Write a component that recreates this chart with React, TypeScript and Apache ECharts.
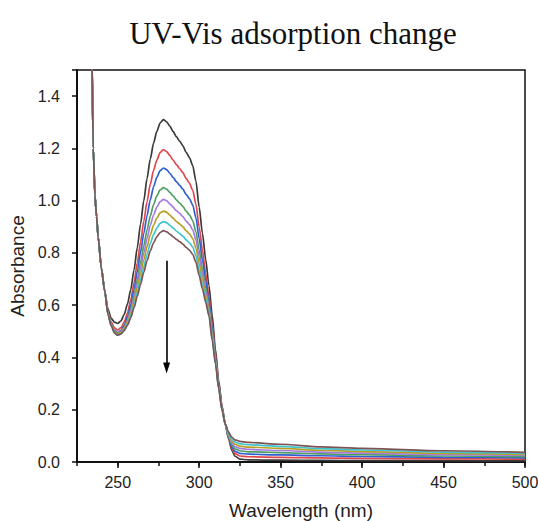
import { useEffect, useRef } from "react";
import * as echarts from "echarts";

const wavelengths = [
  230, 234, 235, 236, 237, 238, 240, 242, 244, 246, 248, 250, 252, 254, 256, 258, 260, 262, 264, 266,
  268, 270, 272, 274, 276, 278, 280, 282, 284, 286, 288, 290, 292, 294, 296, 298, 300, 302, 304, 306,
  308, 310, 312, 314, 316, 318, 320, 322, 325, 330, 350, 375, 400, 450, 500,
];

const absBlack = [
  3.0, 1.6, 1.2, 1.02, 0.94, 0.86, 0.74, 0.655, 0.585, 0.55, 0.535, 0.53,
  0.54, 0.565, 0.605, 0.66, 0.735, 0.82, 0.91, 1.0, 1.085, 1.16, 1.22, 1.265, 1.297, 1.31, 1.302, 1.285,
  1.265, 1.245, 1.228, 1.21, 1.185, 1.165, 1.135, 1.075, 0.975, 0.875, 0.775,
  0.675, 0.56, 0.43, 0.31, 0.215, 0.145,
  0.09, 0.045, 0.022, 0.011, 0.008, 0.007, 0.006, 0.005, 0.005, 0.004,
];
const absRed = [
  3.0, 1.6, 1.2, 1.02, 0.94, 0.86, 0.74, 0.655, 0.575, 0.535, 0.513, 0.505,
  0.514, 0.536, 0.571, 0.62, 0.686, 0.762, 0.841, 0.921, 0.996, 1.063, 1.116, 1.155, 1.184, 1.195, 1.188, 1.173,
  1.155, 1.138, 1.123, 1.107, 1.085, 1.067, 1.04, 0.987, 0.899, 0.81, 0.722,
  0.633, 0.53, 0.415, 0.3, 0.21, 0.145,
  0.094, 0.052, 0.032, 0.023, 0.02, 0.018, 0.016, 0.014, 0.012, 0.011,
];
const absBlue = [
  3.0, 1.6, 1.2, 1.02, 0.94, 0.86, 0.74, 0.655, 0.57, 0.528, 0.503, 0.495,
  0.503, 0.523, 0.556, 0.6, 0.661, 0.729, 0.802, 0.875, 0.943, 1.004, 1.053, 1.089, 1.115, 1.125, 1.119, 1.105,
  1.089, 1.073, 1.059, 1.044, 1.024, 1.008, 0.984, 0.935, 0.855, 0.774, 0.693,
  0.612, 0.515, 0.405, 0.295, 0.205, 0.145,
  0.097, 0.058, 0.041, 0.033, 0.03, 0.027, 0.024, 0.021, 0.018, 0.016,
];
const absGreen = [
  3.0, 1.6, 1.2, 1.02, 0.94, 0.86, 0.74, 0.655, 0.568, 0.525, 0.498, 0.49,
  0.497, 0.515, 0.544, 0.583, 0.637, 0.698, 0.763, 0.827, 0.888, 0.942, 0.985, 1.018, 1.041, 1.05, 1.044, 1.032,
  1.018, 1.003, 0.991, 0.978, 0.96, 0.946, 0.924, 0.881, 0.81, 0.738, 0.666,
  0.594, 0.5, 0.395, 0.29, 0.205, 0.145,
  0.1, 0.066, 0.05, 0.043, 0.039, 0.036, 0.031, 0.028, 0.023, 0.02,
];
const absPurple = [
  3.0, 1.6, 1.2, 1.02, 0.94, 0.86, 0.74, 0.655, 0.568, 0.525, 0.498, 0.49,
  0.497, 0.513, 0.54, 0.576, 0.625, 0.681, 0.741, 0.8, 0.856, 0.906, 0.945, 0.975, 0.996, 1.005, 1.0, 0.988,
  0.975, 0.962, 0.951, 0.939, 0.922, 0.909, 0.889, 0.85, 0.784, 0.718, 0.652,
  0.586, 0.49, 0.39, 0.285, 0.205, 0.145,
  0.104, 0.073, 0.059, 0.052, 0.048, 0.044, 0.038, 0.034, 0.028, 0.025,
];
const absOlive = [
  3.0, 1.6, 1.2, 1.02, 0.94, 0.86, 0.74, 0.655, 0.568, 0.525, 0.498, 0.49,
  0.496, 0.511, 0.535, 0.568, 0.614, 0.665, 0.719, 0.773, 0.825, 0.87, 0.906, 0.933, 0.953, 0.96, 0.956, 0.945,
  0.933, 0.921, 0.911, 0.9, 0.885, 0.873, 0.855, 0.819, 0.758, 0.698, 0.638,
  0.577, 0.48, 0.385, 0.285, 0.2, 0.145,
  0.107, 0.08, 0.068, 0.061, 0.057, 0.052, 0.045, 0.04, 0.033, 0.029,
];
const absCyan = [
  3.0, 1.6, 1.2, 1.02, 0.94, 0.86, 0.74, 0.655, 0.565, 0.522, 0.494, 0.485,
  0.491, 0.505, 0.527, 0.558, 0.599, 0.647, 0.697, 0.747, 0.795, 0.837, 0.87, 0.895, 0.913, 0.92, 0.916, 0.906,
  0.895, 0.884, 0.874, 0.864, 0.85, 0.839, 0.823, 0.789, 0.733, 0.678, 0.622,
  0.566, 0.47, 0.38, 0.28, 0.2, 0.145,
  0.11, 0.088, 0.076, 0.07, 0.066, 0.06, 0.051, 0.046, 0.038, 0.033,
];
const absBrown = [
  3.0, 1.6, 1.2, 1.02, 0.94, 0.86, 0.74, 0.655, 0.565, 0.522, 0.494, 0.485,
  0.49, 0.503, 0.523, 0.552, 0.59, 0.634, 0.68, 0.726, 0.77, 0.808, 0.839, 0.862, 0.878, 0.885, 0.881, 0.872,
  0.862, 0.852, 0.843, 0.834, 0.821, 0.811, 0.795, 0.765, 0.713, 0.662, 0.611,
  0.559, 0.465, 0.375, 0.28, 0.2, 0.145,
  0.115, 0.095, 0.085, 0.079, 0.075, 0.068, 0.058, 0.052, 0.043, 0.037,
];

const seriesNames = ["t0", "t1", "t2", "t3", "t4", "t5", "t6", "t7"];
const seriesValues = [absBlack, absRed, absBlue, absGreen, absPurple, absOlive, absCyan, absBrown];
const seriesColors = ["#3a3a3a", "#e0474c", "#2f5fd0", "#4f9e62", "#a67be0", "#b9a024", "#3ec4cf", "#7d5454"];

// arrow: from (wavelength, absorbance) to (wavelength, absorbance)
const arrowStart = [280, 0.77];
const arrowEnd = [280, 0.36];

const xTickValues = [250, 300, 350, 400, 450, 500];

export default function App() {
  const ref = useRef<HTMLDivElement>(null);
  useEffect(() => {
    const chart = echarts.init(ref.current!, null, { renderer: "svg" });
    const sans = "Liberation Sans";
    chart.setOption({
      animation: false,
      backgroundColor: "#ffffff",
      title: {
        text: "UV-Vis adsorption change",
        left: 288,
        top: 13,
        textAlign: "center",
        textStyle: { fontFamily: "Liberation Serif", fontSize: 31, fontWeight: "normal", color: "#111" },
      },
      grid: {
        left: 77,
        right: 13,
        top: 70,
        bottom: 59,
        containLabel: false,
        outerBoundsMode: "none",
        show: true,
        borderColor: "#111",
        borderWidth: 1.5,
      },
      xAxis: [
        {
          type: "value",
          min: 225,
          max: 500,
          splitNumber: 5,
          position: "bottom",
          name: "Wavelength (nm)",
          nameLocation: "middle",
          nameGap: 39,
          nameTextStyle: { fontFamily: sans, fontSize: 19, color: "#222" },
          axisLine: { show: true, onZero: false, lineStyle: { color: "#111", width: 2 } },
          axisTick: { show: true, length: 6, lineStyle: { color: "#111", width: 1.5 } },
          axisLabel: {
            fontFamily: sans,
            fontSize: 16,
            color: "#222",
            margin: 12,
            showMinLabel: false,
            formatter: (v: number) => (xTickValues.includes(v) ? String(v) : ""),
          },
          splitLine: { show: false },
        },
        {
          type: "value",
          min: 225,
          max: 500,
          interval: 25,
          position: "bottom",
          axisLine: { show: false, onZero: false },
          axisTick: { show: true, length: 4, lineStyle: { color: "#111", width: 1.5 } },
          axisLabel: { show: false },
          splitLine: { show: false },
        },
      ],
      yAxis: {
        type: "value",
        min: 0,
        max: 1.5,
        interval: 0.2,
        name: "Absorbance",
        nameLocation: "middle",
        nameGap: 50,
        nameTextStyle: { fontFamily: sans, fontSize: 19, color: "#222" },
        axisLine: { show: true, onZero: false, lineStyle: { color: "#111", width: 2 } },
        axisTick: { show: true, length: 5, lineStyle: { color: "#111", width: 1.5 } },
        axisLabel: {
          fontFamily: sans,
          fontSize: 16,
          color: "#222",
          margin: 17,
          formatter: (v: number) => (v > 1.45 ? "" : v.toFixed(1)),
        },
        splitLine: { show: false },
      },
      series: seriesValues.map((vals, si) => ({
        name: seriesNames[si],
        type: "line",
        xAxisIndex: 0,
        showSymbol: false,
        symbol: "none",
        smooth: 0.25,
        smoothMonotone: "x",
        clip: true,
        color: seriesColors[si],
        lineStyle: { width: 1.7, color: seriesColors[si] },
        data: wavelengths.map((w, i) => [w, vals[i]]),
        z: 2 + si,
        markLine:
          si === 0
            ? {
                silent: true,
                symbol: ["none", "triangle"],
                symbolSize: [7, 11],
                label: { show: false },
                lineStyle: { color: "#000", width: 1.6, type: "solid" },
                data: [[{ coord: arrowStart }, { coord: arrowEnd }]],
              }
            : undefined,
      })),
    });
    return () => chart.dispose();
  }, []);
  return <div ref={ref} style={{ position: "absolute", left: 0, top: 0, width: 538, height: 521 }} />;
}
